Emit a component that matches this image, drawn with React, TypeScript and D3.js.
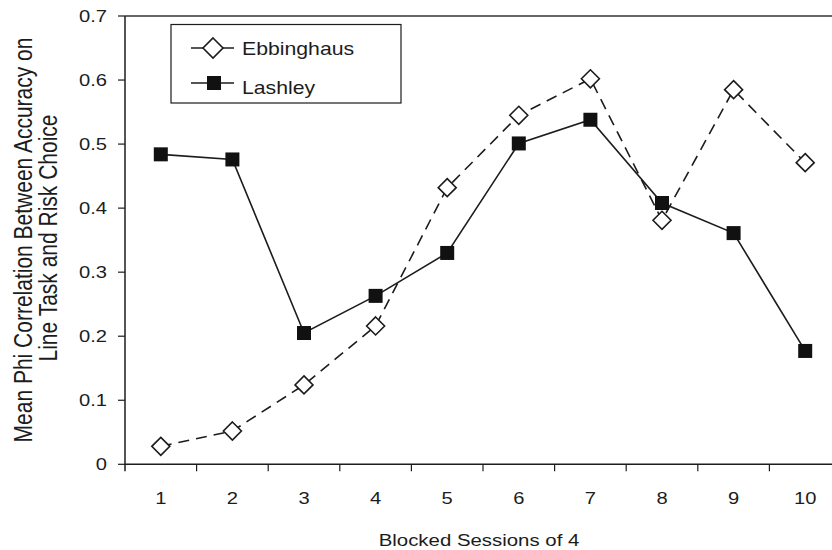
import React from "react";
import * as d3 from "d3";

const sessions = ["1", "2", "3", "4", "5", "6", "7", "8", "9", "10"];
const ebbinghaus = [0.028, 0.052, 0.124, 0.216, 0.432, 0.545, 0.602, 0.381, 0.585, 0.471];
const lashley = [0.484, 0.476, 0.205, 0.263, 0.33, 0.501, 0.538, 0.408, 0.361, 0.177];
const yTicks = [0, 0.1, 0.2, 0.3, 0.4, 0.5, 0.6, 0.7];

const font = "Liberation Sans, Arial, sans-serif";
const ink = "#1c1c1c";
// the scanned figure is a bit wider than tall, so text gets a horizontal stretch
const sx = 1.2;

export default function App() {
  const left = 125;
  const right = 841;
  const top = 16;
  const bottom = 464.3;

  const x = d3.scaleBand<string>().domain(sessions).range([left, right]);
  const y = d3.scaleLinear().domain([0, 0.7]).range([bottom, top]);
  const cx = (s: string) => (x(s) ?? 0) + x.bandwidth() / 2;

  const line = d3
    .line<number>()
    .x((_, i) => cx(sessions[i]))
    .y((d) => y(d));

  const diamond = (px: number, py: number, r = 9) =>
    `M${px},${py - r}L${px + r},${py}L${px},${py + r}L${px - r},${py}Z`;

  const boundaries = sessions.slice(1).map((s) => x(s) ?? 0);

  return (
    <svg
      width={832}
      height={550}
      style={{ position: "absolute", left: 0, top: 0, background: "#fff" }}
      fontFamily={font}
    >
      {/* frame: top line, left axis, bottom axis */}
      <line x1={left} x2={832} y1={top} y2={top} stroke="#333" strokeWidth={1.5} />
      <line x1={left} x2={left} y1={top} y2={bottom + 7} stroke={ink} strokeWidth={1.5} />
      <line x1={left} x2={832} y1={bottom} y2={bottom} stroke={ink} strokeWidth={1.5} />

      {yTicks.map((t) => (
        <g key={t}>
          <line x1={left - 7} x2={left} y1={y(t)} y2={y(t)} stroke={ink} strokeWidth={1.2} />
          <text
            transform={`translate(107,${y(t)}) scale(${sx},1)`}
            dy="0.36em"
            textAnchor="end"
            fontSize={16.8}
            fill={ink}
          >
            {t === 0 ? "0" : t.toFixed(1)}
          </text>
        </g>
      ))}

      {boundaries.map((b, i) => (
        <line key={i} x1={b} x2={b} y1={bottom} y2={bottom + 7} stroke={ink} strokeWidth={1.2} />
      ))}
      {sessions.map((s) => (
        <text
          key={s}
          transform={`translate(${cx(s)},504) scale(${sx},1)`}
          textAnchor="middle"
          fontSize={16.8}
          fill={ink}
        >
          {s}
        </text>
      ))}

      <text transform={`translate(479,546) scale(${sx},1)`} textAnchor="middle" fontSize={17} fill={ink}>
        Blocked Sessions of 4
      </text>
      <text
        transform={`translate(32,240) rotate(-90) scale(1,${sx})`}
        textAnchor="middle"
        fontSize={21}
        fill={ink}
      >
        Mean Phi Correlation Between Accuracy on
      </text>
      <text
        transform={`translate(57,238) rotate(-90) scale(1,${sx})`}
        textAnchor="middle"
        fontSize={21}
        fill={ink}
      >
        Line Task and Risk Choice
      </text>

      {/* Ebbinghaus */}
      <path d={line(ebbinghaus) ?? ""} fill="none" stroke={ink} strokeWidth={1.6} strokeDasharray="11,7" />
      {ebbinghaus.map((v, i) => (
        <path key={i} d={diamond(cx(sessions[i]), y(v))} fill="#fff" stroke={ink} strokeWidth={1.6} />
      ))}

      {/* Lashley */}
      <path d={line(lashley) ?? ""} fill="none" stroke={ink} strokeWidth={1.6} />
      {lashley.map((v, i) => (
        <rect key={i} x={cx(sessions[i]) - 7} y={y(v) - 7} width={14} height={14} fill="#111" />
      ))}

      {/* legend */}
      <rect x={171} y={24.5} width={230} height={78.5} fill="#fff" stroke={ink} strokeWidth={1.2} />
      <line x1={191} x2={234} y1={48} y2={48} stroke={ink} strokeWidth={1.6} />
      <path d={diamond(213, 48, 10)} fill="#fff" stroke={ink} strokeWidth={1.6} />
      <text transform={`translate(242,55) scale(${sx},1)`} fontSize={17.7} fill={ink}>
        Ebbinghaus
      </text>
      <line x1={191} x2={234} y1={83} y2={83} stroke={ink} strokeWidth={1.6} />
      <rect x={207} y={76} width={14} height={14} fill="#111" />
      <text transform={`translate(242,94) scale(${sx},1)`} fontSize={17.7} fill={ink}>
        Lashley
      </text>
    </svg>
  );
}
